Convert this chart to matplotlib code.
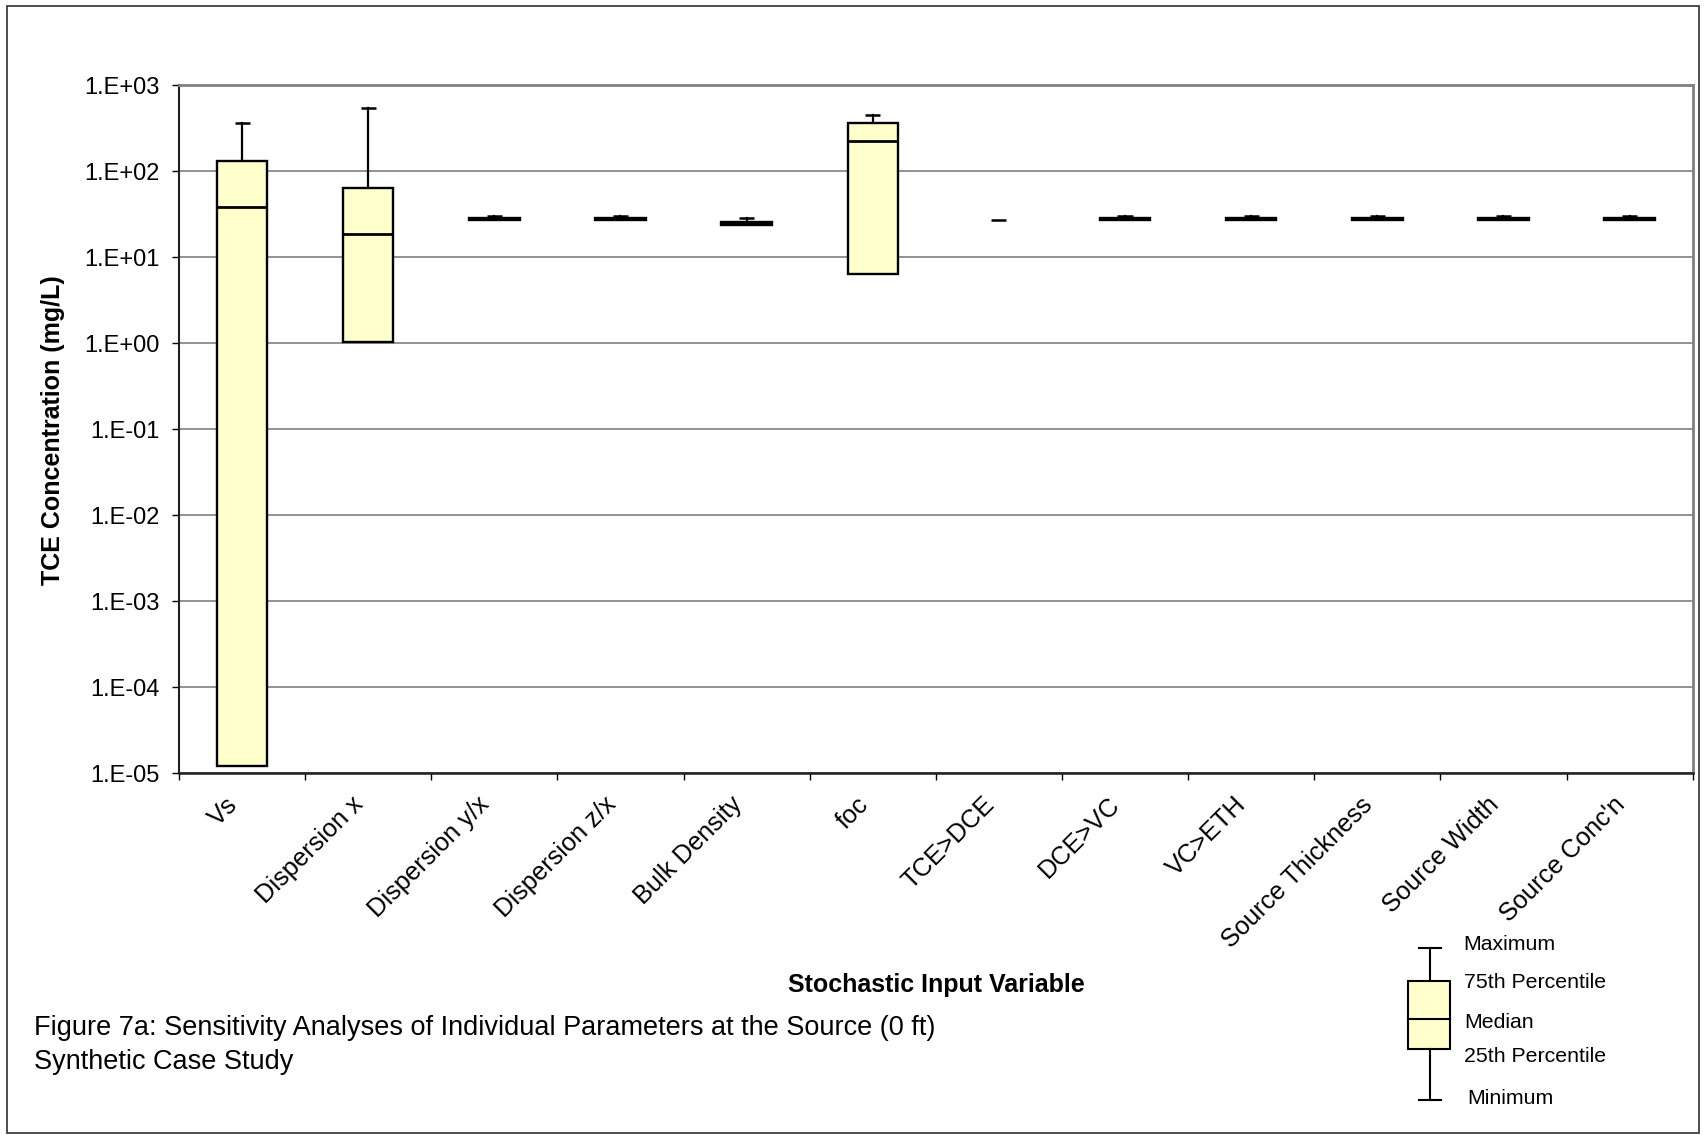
import numpy as np
import matplotlib.pyplot as plt
from matplotlib.patches import Rectangle
from matplotlib.ticker import NullLocator
from matplotlib.transforms import ScaledTranslation

plt.rcParams['font.family'] = ['Liberation Sans', 'DejaVu Sans']

# box plot stats (mg/L)
categories = ['Vs', 'Dispersion x', 'Dispersion y/x', 'Dispersion z/x', 'Bulk Density',
              'foc', 'TCE>DCE', 'DCE>VC', 'VC>ETH', 'Source Thickness', 'Source Width',
              "Source Conc'n"]
minimum = [1.22e-5, 1.03, 27.2, 27.2, 23.7, 6.3, 26.9, 27.2, 27.2, 27.2, 27.2, 27.2]
q1      = [1.22e-5, 1.03, 27.2, 27.2, 23.7, 6.3, 26.9, 27.2, 27.2, 27.2, 27.2, 27.2]
median  = [38.5, 18.5, 27.9, 27.9, 24.7, 225, 26.9, 27.9, 27.9, 27.9, 27.9, 27.9]
q3      = [130, 64, 28.6, 28.6, 25.7, 359, 26.9, 28.6, 28.6, 28.6, 28.6, 28.6]
maximum = [361, 535, 29.6, 29.6, 28.2, 448, 26.9, 29.6, 29.6, 29.6, 29.6, 29.6]

y_ticks = [1e-5, 1e-4, 1e-3, 1e-2, 1e-1, 1e0, 1e1, 1e2, 1e3]
y_labels = ['1.E-05', '1.E-04', '1.E-03', '1.E-02', '1.E-01', '1.E+00', '1.E+01', '1.E+02', '1.E+03']

W, H = 1705, 1135
fig = plt.figure(figsize=(W / 100, H / 100), dpi=100)
ax = fig.add_axes([179 / W, 1 - 773 / H, (1692.7 - 179) / W, (773 - 85) / H])
ax.set_yscale('log')
ax.set_ylim(1e-5, 1e3)
ax.set_xlim(-0.5, len(categories) - 0.5)

box_w = 0.4
cap_w = 0.12
fill = '#FFFFCC'
x = np.arange(len(categories))
for i in x:
    # upper whisker + cap
    if maximum[i] > q3[i]:
        ax.plot([i, i], [q3[i], maximum[i]], color='black', lw=1.6, zorder=3)
    ax.plot([i - cap_w / 2, i + cap_w / 2], [maximum[i]] * 2, color='black', lw=1.8,
            zorder=3, solid_capstyle='butt')
    # lower whisker + cap
    if minimum[i] < q1[i]:
        ax.plot([i, i], [minimum[i], q1[i]], color='black', lw=1.6, zorder=3)
        ax.plot([i - cap_w / 2, i + cap_w / 2], [minimum[i]] * 2, color='black', lw=1.8, zorder=3)
    # box + median
    if q3[i] > q1[i]:
        ax.add_patch(Rectangle((i - box_w / 2, q1[i]), box_w, q3[i] - q1[i],
                               facecolor=fill, edgecolor='black', lw=1.7, zorder=4))
        ax.plot([i - box_w / 2, i + box_w / 2], [median[i]] * 2, color='black', lw=2,
                zorder=5, solid_capstyle='butt')

# axes styling
ax.set_yticks(y_ticks)
ax.set_yticklabels(y_labels, fontsize=17)
ax.yaxis.set_minor_locator(NullLocator())
ax.yaxis.grid(True, color='#808080', lw=1.2)
ax.set_axisbelow(True)
ax.tick_params(axis='y', length=5, width=1, pad=9, color='black')

ax.set_xticks(np.arange(-0.5, len(categories), 1))
ax.set_xticklabels([])
ax.tick_params(axis='x', which='major', length=5, width=1, color='black')
ax.set_xticks(x, minor=True)
ax.set_xticklabels(categories, minor=True, rotation=45, ha='right',
                   rotation_mode='anchor', fontsize=18.3)
ax.tick_params(axis='x', which='minor', length=0, pad=14)
shift = ScaledTranslation(-17 / 100, 0, fig.dpi_scale_trans)
for lab in ax.get_xticklabels(minor=True):
    lab.set_transform(lab.get_transform() + shift)

ax.spines['left'].set_color('#202020')
ax.spines['left'].set_linewidth(1.5)
ax.spines['bottom'].set_color('#202020')
ax.spines['bottom'].set_linewidth(1.8)
ax.spines['top'].set_color('#808080')
ax.spines['top'].set_linewidth(2)
ax.spines['right'].set_color('#808080')
ax.spines['right'].set_linewidth(2)

# overlay in pixel coordinates: frame, titles, caption, legend
ov = fig.add_axes([0, 0, 1, 1], zorder=2)
ov.set_xlim(0, W)
ov.set_ylim(H, 0)
ov.axis('off')
ov.patch.set_alpha(0)

ov.add_patch(Rectangle((6.5, 5.5), 1692, 1127, fill=False, edgecolor='#303030', lw=1.2))

ov.text(53, 430, 'TCE Concentration (mg/L)', rotation=90, ha='center', va='center',
        fontsize=18, fontweight='bold')
ov.text(936, 985, 'Stochastic Input Variable', ha='center', va='center',
        fontsize=18, fontweight='bold')
ov.text(34, 1035, 'Figure 7a: Sensitivity Analyses of Individual Parameters at the Source (0 ft)',
        ha='left', va='baseline', fontsize=19.5)
ov.text(34, 1069, 'Synthetic Case Study', ha='left', va='baseline', fontsize=19.5)

# legend key
ov.plot([1430, 1430], [948, 981], color='black', lw=1.5)
ov.plot([1430, 1430], [1049, 1100], color='black', lw=1.5)
ov.plot([1419, 1441], [948, 948], color='black', lw=1.5)
ov.plot([1419, 1441], [1100, 1100], color='black', lw=1.5)
ov.add_patch(Rectangle((1408, 981), 42, 68, facecolor=fill, edgecolor='black', lw=1.5))
ov.plot([1408, 1450], [1019, 1019], color='black', lw=1.5)
leg_text = [('Maximum', 1463, 944), ('75th Percentile', 1464, 982), ('Median', 1464, 1023),
            ('25th Percentile', 1464, 1056), ('Minimum', 1467, 1098)]
for t, tx, ty in leg_text:
    ov.text(tx, ty, t, ha='left', va='center', fontsize=15.3)

fig.savefig('out.png', dpi=100)
